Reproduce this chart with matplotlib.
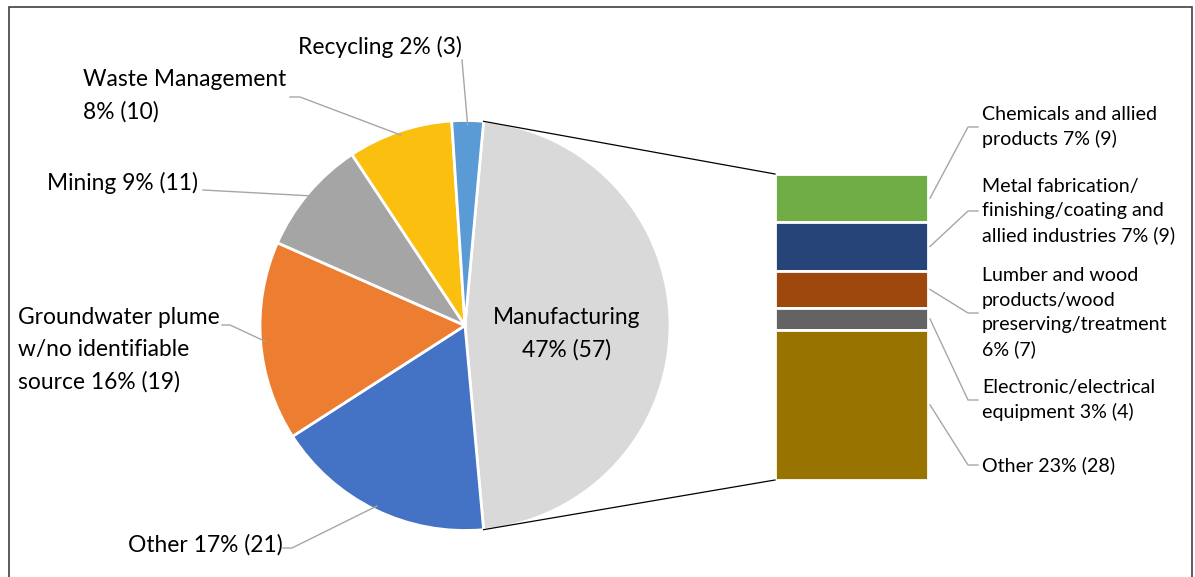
import numpy as np
import matplotlib
matplotlib.use('Agg')
import matplotlib.pyplot as plt
from matplotlib.patches import Rectangle

plt.rcParams['font.family'] = ['Lato', 'DejaVu Sans']

# pie data (counts)
pie_labels = ['Manufacturing', 'Other', 'Groundwater plume\nw/no identifiable\nsource', 'Mining', 'Waste Management\n', 'Recycling']
pie_counts = [57, 21, 19, 11, 10, 3]
pie_colors = ['#D9D9D9', '#4472C4', '#ED7D31', '#A5A5A5', '#FBBF10', '#5B9BD5']

# bar-of-pie data (Manufacturing breakdown, top to bottom)
bar_labels = ['Chemicals and allied\nproducts', 'Metal fabrication/\nfinishing/coating and\nallied industries',
              'Lumber and wood\nproducts/wood\npreserving/treatment\n', 'Electronic/electrical\nequipment', 'Other']
bar_counts = [9, 9, 7, 4, 28]
bar_colors = ['#70AD47', '#264478', '#9E480E', '#636363', '#997300']

W, H = 1195, 577
fig = plt.figure(figsize=(W / 100, H / 100), dpi=100)
ax = fig.add_axes([0, 0, 1, 1])

def Y(py):
    return H - py

total = sum(pie_counts)
cx, cy, r = 465, Y(325.5), 205
start = 360 * pie_counts[0] / total / 2
wedges, _ = ax.pie(pie_counts, colors=pie_colors, radius=r, center=(cx, cy), startangle=start,
                   counterclock=False, wedgeprops=dict(edgecolor='white', linewidth=2), frame=True)
ax.set_xlim(0, W)
ax.set_ylim(0, H)
ax.set_aspect('equal')
ax.axis('off')

# bar of pie
bx, bw = 775, 153
scale = (480 - 174) / sum(bar_counts)
bar_bottom = Y(480)
bottoms = []
b = bar_bottom
for c in reversed(bar_counts):
    bottoms.append(b)
    b += c * scale
bottoms = bottoms[::-1]
ax.bar([bx + bw / 2] * len(bar_counts), [c * scale for c in bar_counts], width=bw, bottom=bottoms,
       color=bar_colors, edgecolor='white', linewidth=2)

# connector lines
t1 = np.deg2rad(start)
ax.plot([cx + r * np.cos(t1), bx], [cy + r * np.sin(t1), bar_bottom + sum(bar_counts) * scale], color='black', lw=0.9)
ax.plot([cx + r * np.cos(t1), bx], [cy - r * np.sin(t1), bar_bottom], color='black', lw=0.9)

# pie labels
lc = '#A6A6A6'
fs_pie, fs_bar = 16.4, 14.1
txt_pos = [None, (128, 545), (18, 350), (47, 183), (83, 96), (298, 47)]
knees = [None, [(283, 548), (292, 548)], [(222, 325), (230, 325)], [(203, 190)], [(290, 97), (300, 97)], [(462, 60)]]
ang = start
for i, (lab, cnt) in enumerate(zip(pie_labels, pie_counts)):
    span = 360 * cnt / total
    mid = np.deg2rad(ang - span / 2)
    ang -= span
    pct = round(100 * cnt / total)
    if i == 0:
        ax.text(567, Y(334), f'{lab}\n{pct}% ({cnt})', ha='center', va='center', fontsize=fs_pie, linespacing=1.64)
        continue
    s = f'{lab}{pct}% ({cnt})' if lab.endswith('\n') else f'{lab} {pct}% ({cnt})'
    tx, ty = txt_pos[i]
    ax.text(tx, Y(ty), s, ha='left', va='center', fontsize=fs_pie, linespacing=1.64)
    pts = knees[i]
    xs = [p[0] for p in pts] + [cx + 0.98 * r * np.cos(mid)]
    ys = [Y(p[1]) for p in pts] + [cy + 0.98 * r * np.sin(mid)]
    ax.plot(xs, ys, color=lc, lw=1)

# bar labels
btxt_y = [127, 211, 313, 400, 465]
for i, (lab, cnt) in enumerate(zip(bar_labels, bar_counts)):
    pct = round(100 * cnt / total)
    s = f'{lab}{pct}% ({cnt})' if lab.endswith('\n') else f'{lab} {pct}% ({cnt})'
    ax.text(982, Y(btxt_y[i]), s, ha='left', va='center', fontsize=fs_bar, linespacing=1.52)
    seg_mid = bottoms[i] + cnt * scale / 2
    ax.plot([bx + bw + 2, 968, 978], [seg_mid, Y(btxt_y[i]), Y(btxt_y[i])], color=lc, lw=1)

# outer frame
ax.add_patch(Rectangle((9, -5), 1183, Y(7) + 5, fill=False, edgecolor='#404040', lw=1.2, clip_on=False))

fig.savefig('out.png', dpi=100)
